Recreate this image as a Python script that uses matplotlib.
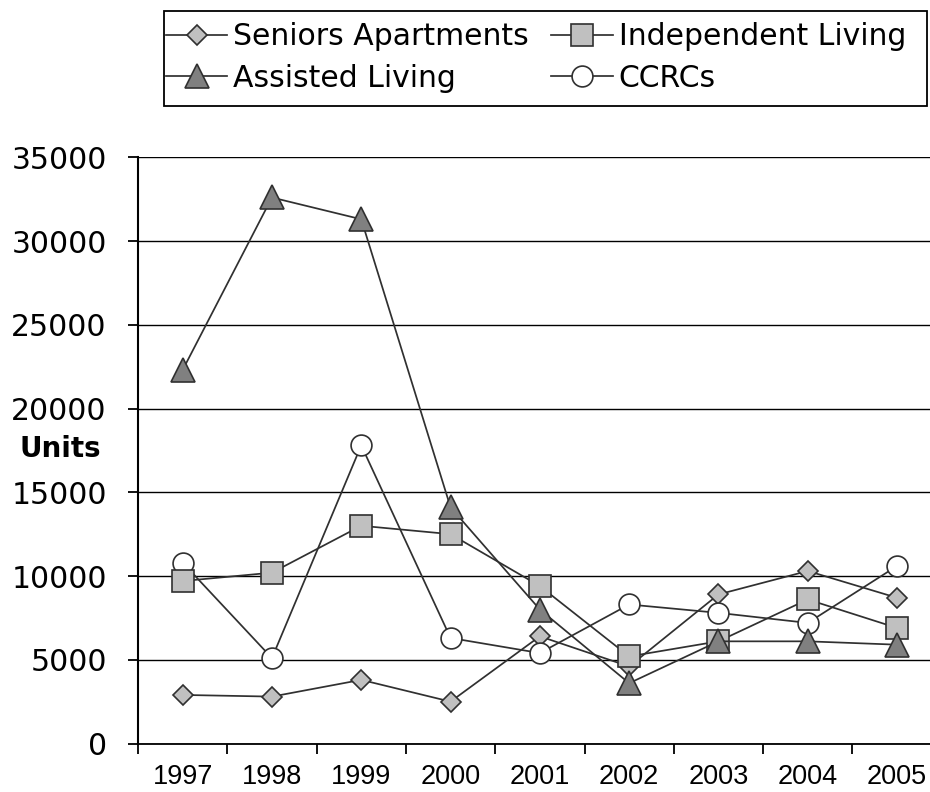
import matplotlib
matplotlib.use("Agg")
import matplotlib.pyplot as plt
from matplotlib.patches import Rectangle
import numpy as np

years = ["1997", "1998", "1999", "2000", "2001", "2002", "2003", "2004", "2005"]
seniors_apartments = [2900, 2800, 3800, 2500, 6400, 4600, 8900, 10300, 8700]
independent_living = [9700, 10200, 13000, 12500, 9400, 5200, 6100, 8600, 6900]
assisted_living = [22300, 32600, 31300, 14100, 8000, 3600, 6100, 6100, 5900]
ccrcs = [10800, 5100, 17800, 6300, 5400, 8300, 7800, 7200, 10600]
y_ticks = [0, 5000, 10000, 15000, 20000, 25000, 30000, 35000]

W, H = 930, 792
fig = plt.figure(figsize=(W / 100, H / 100), dpi=100)
ax = fig.add_axes([138 / W, 1 - 743.5 / H, 803.7 / W, (743.5 - 157.3) / H])

x = np.arange(len(years))
edge = "#303030"
lw = 1.25

h_sa, = ax.plot(x, seniors_apartments, color=edge, lw=lw, marker="D", ms=10.5,
                mfc="#c0c0c0", mec=edge, mew=1.2, zorder=3, label="Seniors Apartments")
h_cc, = ax.plot(x, ccrcs, color=edge, lw=lw, marker="o", ms=15,
                mfc="white", mec=edge, mew=1.2, zorder=4, label="CCRCs")
h_il, = ax.plot(x, independent_living, color=edge, lw=lw, marker="s", ms=16,
                mfc="#c0c0c0", mec=edge, mew=1.2, zorder=5, label="Independent Living")
h_al, = ax.plot(x, assisted_living, color=edge, lw=lw, marker="^", ms=17.5,
                mfc="#808080", mec=edge, mew=1.2, zorder=6, label="Assisted Living")

ax.set_xlim(-0.5, len(years) - 0.5)
ax.set_ylim(0, 35000)

ax.set_yticks(y_ticks)
ax.set_yticklabels([str(v) for v in y_ticks], fontsize=21.5, family="DejaVu Sans")
ax.tick_params(axis="y", direction="out", length=7.5, width=1.3, pad=15, color="black")

ax.set_xticks(np.arange(-0.5, len(years), 1.0))
ax.set_xticklabels([])
ax.tick_params(axis="x", which="major", direction="out", length=7, width=1.3)
ax.set_xticks(x, minor=True)
ax.set_xticklabels(years, minor=True, fontsize=19.5, family="Liberation Sans")
ax.tick_params(axis="x", which="minor", length=0, pad=15)

ax.yaxis.grid(True, color="black", lw=1.0)
ax.set_axisbelow(True)
for s in ("top", "right"):
    ax.spines[s].set_visible(False)
ax.spines["left"].set_linewidth(1.5)
ax.spines["bottom"].set_linewidth(1.3)

ax.set_ylabel("Units", rotation=0, fontsize=20, fontweight="bold", family="DejaVu Sans",
              va="center", ha="center")
ax.yaxis.set_label_coords((60 - 138) / 803.7, (743.5 - 449) / (743.5 - 157.3))

leg = fig.legend(handles=[h_sa, h_al, h_il, h_cc], ncol=2, loc="upper left",
                 bbox_to_anchor=(166 / W, 1 - 22 / H), frameon=False,
                 prop={"family": "DejaVu Sans", "size": 21.5},
                 handlelength=2.05, handletextpad=0.2, columnspacing=0.75,
                 labelspacing=0.42, borderpad=0, borderaxespad=0)

fig.patches.append(Rectangle((164 / W, 1 - 106 / H), (927 - 164) / W, (106 - 11) / H,
                             transform=fig.transFigure, fill=False, ec="black", lw=1.3))

fig.savefig("out.png", dpi=100)
